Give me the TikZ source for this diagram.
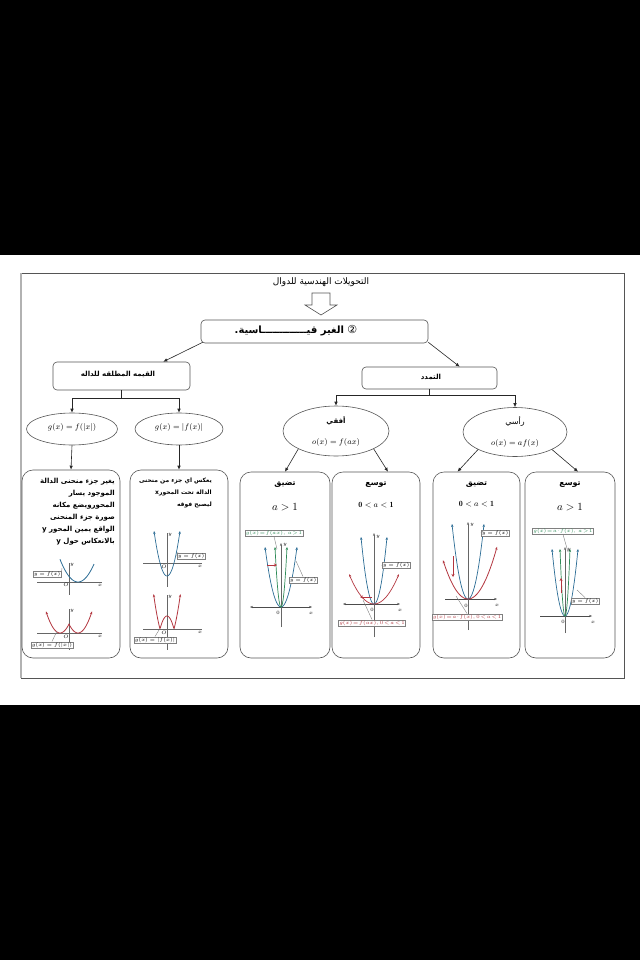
\documentclass[tikz,border=0pt]{standalone}
\usepackage{fontspec}
\newfontfamily\arabicfont[Script=Arabic]{DejaVu Sans}
\newfontfamily\symfont{DejaVu Sans}
\TeXXeTstate=1
\usetikzlibrary{shapes.geometric,arrows.meta,calc}
\definecolor{bluc}{HTML}{2B6C95}
\definecolor{redc}{HTML}{B3363F}
\definecolor{grnc}{HTML}{2E8B57}
\definecolor{framec}{HTML}{555555}
\newcommand{\parabola}[5]{\draw[#1,line width=0.7pt,{Stealth[length=3pt,width=2.4pt]}-{Stealth[length=3pt,width=2.4pt]}] plot[domain=-#4:#4,samples=31,smooth] ({#2+\x},{#3-#5*(\x/#4)^2});}
\tikzset{
  rbox/.style={draw=framec, line width=0.6pt, rounded corners=4pt, fill=white},
  cbox/.style={draw=framec, line width=0.6pt, rounded corners=11pt, fill=white},
  ell/.style={draw=framec, line width=0.6pt, ellipse, inner sep=0pt, fill=white},
  conn/.style={draw=black!85, line width=0.6pt, -{Latex[length=4pt,width=3.5pt]}},
  axisln/.style={draw=black!70, line width=1pt},
  thinax/.style={draw=black!60, line width=0.6pt},
  lbl/.style={draw=black!50, fill=white, inner sep=0.8pt, font=\fontsize{4}{5}\selectfont, line width=0.4pt},
  tiny/.style={font=\fontsize{4}{5}\selectfont, inner sep=0pt},
  pline/.style={draw=black!50, line width=0.4pt},
  arbody/.style={font=\arabicfont\bfseries\fontsize{7}{12}\selectfont, align=right, inner sep=0pt},
  artitle/.style={font=\arabicfont\bfseries\fontsize{8}{10}\selectfont, inner sep=0pt},
  shiftarr/.style={draw=redc, line width=1pt, -{Stealth[length=3pt,width=3pt]}}
}
\begin{document}
\begin{tikzpicture}[x=1pt,y=-1pt]
\useasboundingbox (0,0) rectangle (640,960);
\fill[black] (0,0) rectangle (640,960);
\fill[white] (0,255) rectangle (640,705);
\draw[framec, line width=0.8pt] (21,273) rectangle (624,678);
\draw[gray!60, line width=2pt] (21,273) -- (21,678);

% title and hollow arrow
\node[font=\arabicfont\fontsize{9}{11}\selectfont, inner sep=0pt] (title) at (321,282) {\beginR التحويلات الهندسية للدوال\endR};
\draw[framec, line width=0.6pt, fill=white] (312,293) -- (330,293) -- (330,305) -- (337,305) -- (321,315) -- (305,305) -- (312,305) -- cycle;

% main box
\node[rbox, minimum width=227pt, minimum height=23pt] (main) at (314.5,331.5) {};
\node[font=\arabicfont\bfseries\fontsize{10}{12}\selectfont, inner sep=0pt] (maintxt) at (296,331) {\beginR{\mdseries\symfont\fontsize{11}{12}\selectfont ②} الغير قيـــــــــــــاسية.\endR};

% second level
\node[rbox, minimum width=137pt, minimum height=28pt] (abs) at (121.5,376) {};
\node[artitle, font=\arabicfont\bfseries\fontsize{7}{9}\selectfont] (abstxt) at (118,374) {\beginR القيمه المطلقه للداله\endR};
\node[rbox, minimum width=135pt, minimum height=22pt] (tam) at (429.5,378) {};
\node[artitle, font=\arabicfont\bfseries\fontsize{7}{9}\selectfont] (tamtxt) at (431,377) {\beginR التمدد\endR};

\draw[conn] ($(main.south west)+(2,-1)$) -- ($(abs.north east)+(-27,0)$);
\draw[conn] ($(main.south east)+(0,-1)$) -- ($(tam.north west)+(98,0)$);

% ellipses
\node[ell, minimum width=91pt, minimum height=32pt] (e1) at (72,429) {};
\node[font=\fontsize{8}{10}\selectfont, inner sep=0pt] (e1t) at (72,427) {$g(x)=f(|x|)$};
\node[ell, minimum width=88pt, minimum height=32pt] (e2) at (179,429) {};
\node[font=\fontsize{8}{10}\selectfont, inner sep=0pt] (e2t) at (179,427) {$g(x)=|f(x)|$};
\node[ell, minimum width=106pt, minimum height=50pt] (eh) at (336,431) {};
\node[artitle, font=\arabicfont\bfseries\fontsize{7}{9}\selectfont] (eht) at (336,421) {\beginR أفقي\endR};
\node[font=\fontsize{8}{10}\selectfont, inner sep=0pt] (ehm) at (336,442) {$o(x)=f(ax)$};
\node[ell, minimum width=104pt, minimum height=49pt] (ev) at (515,432) {};
\node[artitle, font=\arabicfont\fontsize{8}{9}\selectfont] (evt) at (515,421) {\beginR رأسي\endR};
\node[font=\fontsize{8}{10}\selectfont, inner sep=0pt] (evm) at (515,443) {$o(x)=af(x)$};

\draw[conn] (abs.south) -- ++(0,8) -| (e1.north);
\draw[conn] (abs.south) -- ++(0,8) -| (e2.north);
\draw[conn] (tam.south) -- ++(0,6) -| (eh.north);
\draw[conn] (tam.south) -- ++(0,6) -| (ev.north);

% boxes
\node[cbox, minimum width=98pt, minimum height=188pt] (b1) at (71,564) {};
\node[cbox, minimum width=98pt, minimum height=188pt] (b2) at (179,564) {};
\node[cbox, minimum width=90pt, minimum height=186pt] (m1) at (285,565) {};
\node[cbox, minimum width=88pt, minimum height=186pt] (m2) at (376,565) {};
\node[cbox, minimum width=87pt, minimum height=186pt] (m3) at (476.5,565) {};
\node[cbox, minimum width=90pt, minimum height=186pt] (m4) at (570,565) {};

\draw[conn] (e1.south) -- (b1.north);
\draw[conn] (e2.south) -- (b2.north);
\draw[conn] (eh.south west) -- (m1.north);
\draw[conn] (eh.south east) -- ($(m2.north)+(12,0)$);
\draw[conn] (ev.south west) -- ($(m3.north)+(-19,0)$);
\draw[conn] (ev.south east) -- ($(m4.north)+(8,0)$);

% box texts
\node[arbody, anchor=north east] (b1t) at (115,478) {\beginR يغير جزء منحنى الدالة\endR\\ \beginR الموجود يسار\endR\\ \beginR المحورويضع مكانه\endR\\ \beginR صورة جزء المنحنى\endR\\ \beginR الواقع يمين المحور y\endR\\ \beginR بالانعكاس حول y\endR};
\node[arbody, font=\arabicfont\bfseries\fontsize{6}{12}\selectfont, anchor=north east] (b2t) at (212,478) {\beginR يعكس اي جزء من منحنى\endR\\ \beginR الدالة تحت المحورx\endR\\ \beginR ليصبح فوقه\endR};

\node[artitle] (m1a) at (285,485) {\beginR تضيق\endR};
\node[font=\fontsize{11}{12}\selectfont, inner sep=0pt] (m1b) at (285,507) {$a>1$};
\node[artitle] (m2a) at (376,485) {\beginR توسع\endR};
\node[font=\bfseries\fontsize{8}{10}\selectfont, inner sep=0pt] (m2b) at (376,505) {$\mathbf{0}<a<\mathbf{1}$};
\node[artitle] (m3a) at (476.5,485) {\beginR تضيق\endR};
\node[font=\bfseries\fontsize{8}{10}\selectfont, inner sep=0pt] (m3b) at (476.5,504) {$\mathbf{0}<a<\mathbf{1}$};
\node[artitle] (m4a) at (570,485) {\beginR توسع\endR};
\node[font=\fontsize{11}{12}\selectfont, inner sep=0pt] (m4b) at (570,507) {$a>1$};

% ---------- graph b1 top (blue) ----------
\draw[thinax] (37,582) -- (102,582);
\draw[thinax] (69,563) -- (69,595);
\draw[bluc, line width=0.8pt] plot[domain=-18:16, samples=40, smooth] ({78+\x},{582-0.07*\x*\x});
\node[tiny] (b1y) at (72,565) {$y$};
\node[tiny] (b1x) at (100,585) {$x$};
\node[tiny] (b1o) at (66,585) {$O$};
\node[lbl] (b1l) at (47,574) {$y=f(x)$};
\draw[pline] (b1l.east) -- (62,568);
% ---------- graph b1 bottom (red) ----------
\draw[thinax] (37,633) -- (102,633);
\draw[thinax] (69,609) -- (69,650);
\draw[redc, line width=0.8pt, {Stealth[length=3pt,width=2.4pt]}-{Stealth[length=3pt,width=2.4pt]}] plot[domain=-23:23, samples=47] ({69+\x},{633-0.11*(abs(\x)-9)*(abs(\x)-9)});
\node[tiny] (b1y2) at (72,611) {$y$};
\node[tiny] (b1x2) at (100,636) {$x$};
\node[tiny] (b1o2) at (66,637) {$O$};
\node[lbl] (b1l2) at (52,645) {$g(x)=f(|x|)$};
\draw[pline] (b1l2.north) -- (57,631);

% ---------- graph b2 top (blue) ----------
\draw[thinax] (143,563) -- (202,563);
\draw[thinax] (167,533) -- (167,587);
\parabola{bluc}{167}{576}{13}{45}
\node[tiny] (b2y) at (170,535) {$y$};
\node[tiny] (b2x) at (200,566) {$x$};
\node[tiny] (b2o) at (164,567) {$O$};
\node[lbl] (b2l) at (191,556) {$y=f(x)$};
\draw[pline] (b2l.west) -- (178,552);
% ---------- graph b2 bottom (red) ----------
\draw[thinax] (143,629) -- (202,629);
\draw[thinax] (167,595) -- (167,650);
\draw[redc, line width=0.8pt, {Stealth[length=3pt,width=2.4pt]}-{Stealth[length=3pt,width=2.4pt]}] plot[domain=-13.4:13.4, samples=61] ({167+\x},{629-abs(45*(\x/13)^2-13)});
\node[tiny] (b2y2) at (170,597) {$y$};
\node[tiny] (b2x2) at (200,632) {$x$};
\node[tiny] (b2o2) at (164,633) {$O$};
\node[lbl] (b2l2) at (155,640) {$g(x)=|f(x)|$};
\draw[pline] (b2l2.north) -- (159,630);

% ---------- m1 : horizontal compress ----------
\draw[axisln, {Stealth[length=3pt]}-{Stealth[length=3pt]}] (250,607) -- (312,607);
\draw[thinax, -{Stealth[length=3pt]}] (281,627) -- (281,543);
\parabola{bluc}{281}{607}{16}{60}
\parabola{grnc}{281}{607}{6}{60}
\draw[shiftarr] (267,565) -- (277,565);
\node[tiny] (m1y) at (285,545) {$y$};
\node[tiny] (m1x) at (311,613) {$x$};
\node[tiny] (m1o) at (278,613) {$0$};
\node[lbl, text=grnc] (m1l) at (274,533) {$g(x)\!=\!f(ax),\,a\!>\!1$};
\draw[pline] (m1l.south) -- (277,549);
\node[lbl] (m1l2) at (303,580) {$y=f(x)$};
\draw[pline] (m1l2.north) -- (296,561);

% ---------- m2 : horizontal stretch ----------
\draw[axisln, {Stealth[length=3pt]}-{Stealth[length=3pt]}] (343,604) -- (400,604);
\draw[thinax, -{Stealth[length=3pt]}] (374,637) -- (374,533);
\parabola{bluc}{374}{604}{13}{67}
\parabola{redc}{374}{604}{25}{30}
\draw[shiftarr] (372,597) -- (360,597);
\node[tiny] (m2y) at (378,537) {$y$};
\node[tiny] (m2x) at (400,610) {$x$};
\node[tiny] (m2o) at (372,610) {$0$};
\node[lbl] (m2l) at (396,565) {$y=f(x)$};
\draw[pline] (m2l.west) -- (383,568);
\node[lbl, text=redc] (m2l2) at (372,623) {$g(x)\!=\!f(ax),0\!<\!a\!<\!1$};
\draw[pline] (m2l2.north) -- (363,600);

% ---------- m3 : vertical compress ----------
\draw[axisln, -{Stealth[length=3pt]}] (445,599) -- (497,599);
\draw[thinax, -{Stealth[length=3pt]}] (468,630) -- (468,522);
\parabola{bluc}{468}{599}{16}{75}
\draw[redc, line width=0.8pt, {Stealth[length=3pt,width=2.4pt]}-{Stealth[length=3pt,width=2.4pt]}] plot[domain=-25:29, samples=40, smooth] ({468+\x},{599-0.062*\x*\x});
\draw[shiftarr] (453,556) -- (453,577);
\node[tiny] (m3y) at (472,525) {$y$};
\node[tiny] (m3x) at (497,605) {$x$};
\node[tiny] (m3o) at (466,606) {$0$};
\node[lbl] (m3l) at (495,533) {$y=f(x)$};
\draw[pline] (m3l.west) -- (483,531);
\node[lbl, text=redc] (m3l2) at (467,617) {$g(x)\!=\!a\!\cdot\! f(x),0\!<\!a\!<\!1$};
\draw[pline] (m3l2.north) -- (456,596);

% ---------- m4 : vertical stretch ----------
\draw[axisln, -{Stealth[length=3pt]}] (540,616) -- (592,616);
\draw[thinax, -{Stealth[length=3pt]}] (565,633) -- (565,547);
\parabola{bluc}{565}{616}{13}{67}
\parabola{grnc}{565}{616}{5}{67}
\draw[shiftarr] (561,593) -- (561,578);
\node[tiny] (m4y) at (569,550) {$y$};
\node[tiny] (m4x) at (593,622) {$x$};
\node[tiny] (m4o) at (563,622) {$0$};
\node[lbl, text=grnc] (m4l) at (563,531) {$g(x)\!=\!a\!\cdot\! f(x),\,a\!>\!1$};
\draw[pline] (m4l.south) -- (568,552);
\node[lbl] (m4l2) at (585,601) {$y=f(x)$};
\draw[pline] (m4l2.north) -- (577,590);
\end{tikzpicture}
\end{document}
